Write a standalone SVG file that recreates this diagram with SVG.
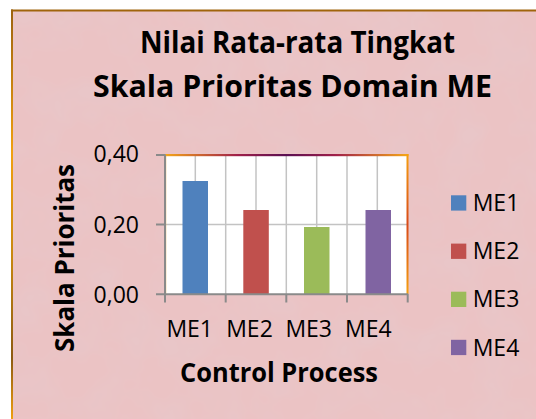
<svg xmlns="http://www.w3.org/2000/svg" width="536" height="419" viewBox="0 0 536 419">
<style>
.t{font-family:"Open Sans","Liberation Sans",sans-serif;fill:#000}
.b{font-weight:bold}
.lab{font-size:23px}
.grid{stroke:#c3c3c3;stroke-width:1.5}
.ax{stroke:#8a8a8a;stroke-width:2}
</style>
<defs>
<filter id="tex" x="0" y="0" width="1" height="1">
<feTurbulence type="fractalNoise" baseFrequency="0.025" numOctaves="3" seed="5"/>
<feColorMatrix type="matrix" values="0 0 0 0 0.80  0 0 0 0 0.58  0 0 0 0 0.60  1.2 0 0 0 -0.44"/>
</filter>
<linearGradient id="lb" x1="0" y1="0" x2="0" y2="1">
<stop offset="0" stop-color="#9c6210"/>
<stop offset="0.35" stop-color="#f0a010"/>
<stop offset="0.6" stop-color="#c88810"/>
<stop offset="0.85" stop-color="#8c5a12"/>
<stop offset="1" stop-color="#f0a010"/>
</linearGradient>
<linearGradient id="pt" x1="0" y1="0" x2="1" y2="0">
<stop offset="0" stop-color="#f5a818"/>
<stop offset="0.3" stop-color="#a0204a"/>
<stop offset="0.5" stop-color="#5a1052"/>
<stop offset="0.7" stop-color="#a0204a"/>
<stop offset="1" stop-color="#f5a818"/>
</linearGradient>
<linearGradient id="pr" x1="0" y1="0" x2="0" y2="1">
<stop offset="0" stop-color="#f5a010"/>
<stop offset="0.5" stop-color="#d84a18"/>
<stop offset="1" stop-color="#f5a010"/>
</linearGradient>
</defs>
<rect x="0" y="0" width="536" height="419" fill="#ffffff"/>
<g id="background">
<rect x="12" y="10" width="524" height="409" fill="#ebc3c4"/>
<rect x="12" y="10" width="524" height="409" filter="url(#tex)"/>
<rect x="11" y="9.5" width="525" height="2" fill="#a0640c"/>
<rect x="11" y="9.5" width="2" height="410" fill="url(#lb)"/>
</g>
<g id="title">
<text class="t b" x="140" y="52.5" font-size="30.5" textLength="315" lengthAdjust="spacingAndGlyphs">Nilai Rata-rata Tingkat</text>
<text class="t b" x="93" y="97" font-size="30.5" textLength="399" lengthAdjust="spacingAndGlyphs">Skala Prioritas Domain ME</text>
</g>
<g id="plot-area">
<rect x="165" y="155" width="242.7" height="139" fill="#ffffff"/>
<g id="gridlines">
<line class="grid" x1="195.3" y1="155" x2="195.3" y2="294"/>
<line class="grid" x1="225.7" y1="155" x2="225.7" y2="294"/>
<line class="grid" x1="256" y1="155" x2="256" y2="294"/>
<line class="grid" x1="286.3" y1="155" x2="286.3" y2="294"/>
<line class="grid" x1="316.7" y1="155" x2="316.7" y2="294"/>
<line class="grid" x1="347" y1="155" x2="347" y2="294"/>
<line class="grid" x1="377.3" y1="155" x2="377.3" y2="294"/>
<line class="grid" x1="165" y1="224.5" x2="407.7" y2="224.5"/>
</g>
<rect x="164" y="154" width="244.5" height="2.2" fill="url(#pt)"/>
<rect x="406.5" y="154" width="2" height="140" fill="url(#pr)"/>
<rect x="165" y="155" width="1.2" height="139" fill="#e8b040"/>
</g>
<g id="bars">
<rect id="bar-ME1" x="182.5" y="181" width="25.5" height="113" fill="#4f81bd"/>
<rect id="bar-ME2" x="243.3" y="210" width="25.5" height="84" fill="#c0504d"/>
<rect id="bar-ME3" x="304" y="227" width="25.5" height="67" fill="#9bbb59"/>
<rect id="bar-ME4" x="365.5" y="210" width="25.5" height="84" fill="#8064a2"/>
</g>
<g id="axes">
<line class="ax" x1="165" y1="154.5" x2="165" y2="294"/>
<line class="ax" x1="156" y1="155" x2="165" y2="155"/>
<line class="ax" x1="156" y1="224.5" x2="165" y2="224.5"/>
<line class="ax" x1="156" y1="294.3" x2="408" y2="294.3"/>
<line class="ax" x1="165" y1="294" x2="165" y2="302.5"/>
<line class="ax" x1="225.7" y1="294" x2="225.7" y2="302.5"/>
<line class="ax" x1="286.3" y1="294" x2="286.3" y2="302.5"/>
<line class="ax" x1="347" y1="294" x2="347" y2="302.5"/>
<line class="ax" x1="407.7" y1="294" x2="407.7" y2="302.5"/>
</g>
<g id="y-labels">
<text class="t lab" x="139" y="161.5" text-anchor="end">0,40</text>
<text class="t lab" x="139" y="232.5" text-anchor="end">0,20</text>
<text class="t lab" x="139" y="303" text-anchor="end">0,00</text>
</g>
<g id="x-labels">
<text class="t lab" x="189.7" y="336.7" text-anchor="middle">ME1</text>
<text class="t lab" x="249.5" y="336.7" text-anchor="middle">ME2</text>
<text class="t lab" x="308.7" y="336.7" text-anchor="middle">ME3</text>
<text class="t lab" x="368.3" y="336.7" text-anchor="middle">ME4</text>
</g>
<g id="axis-titles">
<text class="t b" transform="translate(74,258) rotate(-90)" x="0" y="0" font-size="26" text-anchor="middle" textLength="188" lengthAdjust="spacingAndGlyphs">Skala Prioritas</text>
<text class="t b" x="180" y="382" font-size="26" textLength="198" lengthAdjust="spacingAndGlyphs">Control Process</text>
</g>
<g id="legend">
<g id="legend-ME1"><rect x="451" y="195.3" width="15.3" height="15.3" fill="#4f81bd"/><text class="t lab" x="472.7" y="211">ME1</text></g>
<g id="legend-ME2"><rect x="451" y="243.6" width="15.3" height="15.3" fill="#c0504d"/><text class="t lab" x="472.7" y="259.3">ME2</text></g>
<g id="legend-ME3"><rect x="451" y="291.7" width="15.3" height="15.3" fill="#9bbb59"/><text class="t lab" x="472.7" y="307.4">ME3</text></g>
<g id="legend-ME4"><rect x="451" y="339.8" width="15.3" height="15.3" fill="#8064a2"/><text class="t lab" x="472.7" y="355.5">ME4</text></g>
</g>
</svg>
